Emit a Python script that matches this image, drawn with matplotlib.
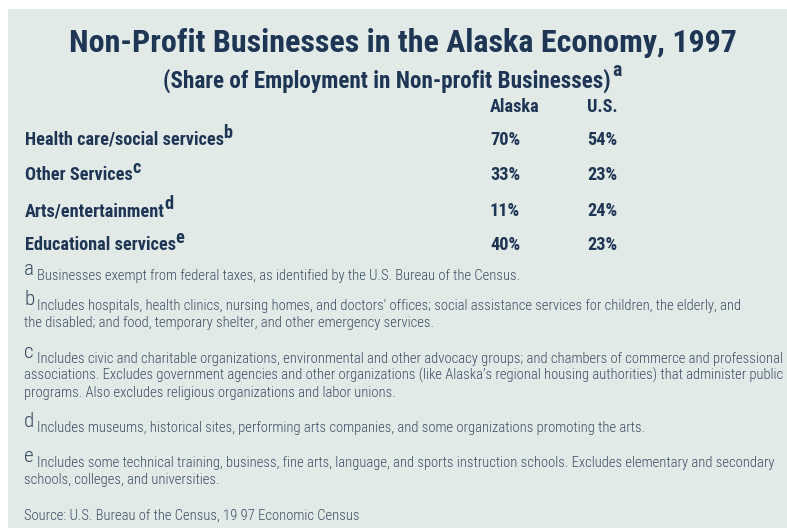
import matplotlib
matplotlib.use("Agg")
import matplotlib.pyplot as plt
from matplotlib import font_manager
from matplotlib.patches import Rectangle

# ---------------------------------------------------------------------------
# data
# ---------------------------------------------------------------------------
TITLE = "Non-Profit Businesses in the Alaska Economy, 1997"
SUBTITLE = "(Share of Employment in Non-profit Businesses)"
SUBTITLE_NOTE = "a"

COLUMNS = ["Alaska", "U.S."]
CATEGORIES = [
    "Health care/social services",
    "Other Services",
    "Arts/entertainment",
    "Educational services",
]
CATEGORY_NOTES = ["b", "c", "d", "e"]
ALASKA = [70, 33, 11, 40]
US = [54, 23, 24, 23]

NOTE_LETTERS = ["a", "b", "c", "d", "e"]
NOTE_LINES = [
    ["Businesses exempt from federal taxes, as identified by the U.S. Bureau of the Census."],
    ["Includes hospitals, health clinics, nursing homes, and doctors\u2019 offices; social assistance services for children, the elderly, and",
     "the disabled; and food, temporary shelter, and other emergency services."],
    ["Includes civic and charitable organizations, environmental and other advocacy groups; and chambers of commerce and professional",
     "associations. Excludes government agencies and other organizations (like Alaska\u2019s regional housing authorities) that administer public",
     "programs. Also excludes religious organizations and labor unions."],
    ["Includes museums, historical sites, performing arts companies, and some organizations promoting the arts."],
    ["Includes some technical training, business, fine arts, language, and sports instruction schools. Excludes elementary and secondary",
     "schools, colleges, and universities."],
]
SOURCE = "Source: U.S. Bureau of the Census, 19 97 Economic Census"

# ---------------------------------------------------------------------------
# style
# ---------------------------------------------------------------------------
BG = "#e1eae7"
INK = "#1f3554"
NOTE_INK = "#3a4c63"

installed = {f.name for f in font_manager.fontManager.ttflist}
PREFERRED = ["Roboto Condensed", "Archivo Narrow", "PT Sans Narrow",
             "Liberation Sans Narrow", "Fira Sans Condensed",
             "Open Sans Condensed", "Encode Sans Condensed"]
NARROW = next((f for f in PREFERRED if f in installed), "DejaVu Sans")
plt.rcParams["font.family"] = [NARROW, "DejaVu Sans"]

W, H = 787, 528
fig = plt.figure(figsize=(W / 100, H / 100), dpi=100)
fig.patch.set_facecolor("white")
ax = fig.add_axes([0, 0, 1, 1])
ax.set_xlim(0, W)
ax.set_ylim(H, 0)
ax.axis("off")
ax.add_patch(Rectangle((8, 9), W - 8, H - 9, facecolor=BG, edgecolor="none"))

renderer = fig.canvas.get_renderer()


def width_of(t):
    bb = t.get_window_extent(renderer=renderer)
    inv = ax.transData.inverted()
    return inv.transform((bb.x1, 0))[0] - inv.transform((bb.x0, 0))[0]


def right_edge(t):
    bb = t.get_window_extent(renderer=renderer)
    return ax.transData.inverted().transform((bb.x1, bb.y0))[0]


def put(x, y, s, size, weight="normal", color=INK, ha="left"):
    return ax.text(x, y, s, fontsize=size, fontweight=weight, color=color,
                   ha=ha, va="baseline")


def fit_size(s, target, weight="normal"):
    t = put(0, 0, s, 10, weight)
    w = width_of(t)
    t.remove()
    return 10 * target / w


# text sizes matched to widths measured on the reference
title_fs = fit_size(TITLE, 668, "bold")
sub_fs = fit_size(SUBTITLE, 448, "bold")
row_fs = fit_size(CATEGORIES[0], 199, "bold")
note_fs = fit_size(NOTE_LINES[2][1], 758, "light")

# title block
put(403, 52, TITLE, title_fs, "bold", ha="center")
sub = put(387, 88, SUBTITLE, sub_fs, "bold", ha="center")
put(right_edge(sub) + 1, 76, SUBTITLE_NOTE, sub_fs * 0.85, "bold")

# table
COL_X = [490, 587]
HEADER_Y = 112
ROW_Y = [145, 180, 216, 250]
for cx, name in zip(COL_X, COLUMNS):
    put(cx, HEADER_Y, name, row_fs, "bold")

for y, cat, note, ak, us in zip(ROW_Y, CATEGORIES, CATEGORY_NOTES, ALASKA, US):
    t = put(25, y, cat, row_fs, "bold")
    put(right_edge(t) - 0.5, y - 7, note, row_fs, "bold")
    put(COL_X[0], y, f"{ak}%", row_fs, "bold")
    put(COL_X[1], y, f"{us}%", row_fs, "bold")

# footnotes
NOTE_Y = [280, 310, 363, 432, 467]
LINE_GAP = 17
for letter, lines, y0 in zip(NOTE_LETTERS, NOTE_LINES, NOTE_Y):
    lt = put(24, y0 - 5, letter, note_fs * 1.45, "light", color=NOTE_INK)
    x1 = right_edge(lt) + 3
    for i, line in enumerate(lines):
        put(x1 if i == 0 else 24, y0 + i * LINE_GAP, line, note_fs, "light", color=NOTE_INK)

put(24, 520, SOURCE, note_fs, "light", color=NOTE_INK)

fig.savefig("out.png", dpi=100, facecolor=fig.get_facecolor())
